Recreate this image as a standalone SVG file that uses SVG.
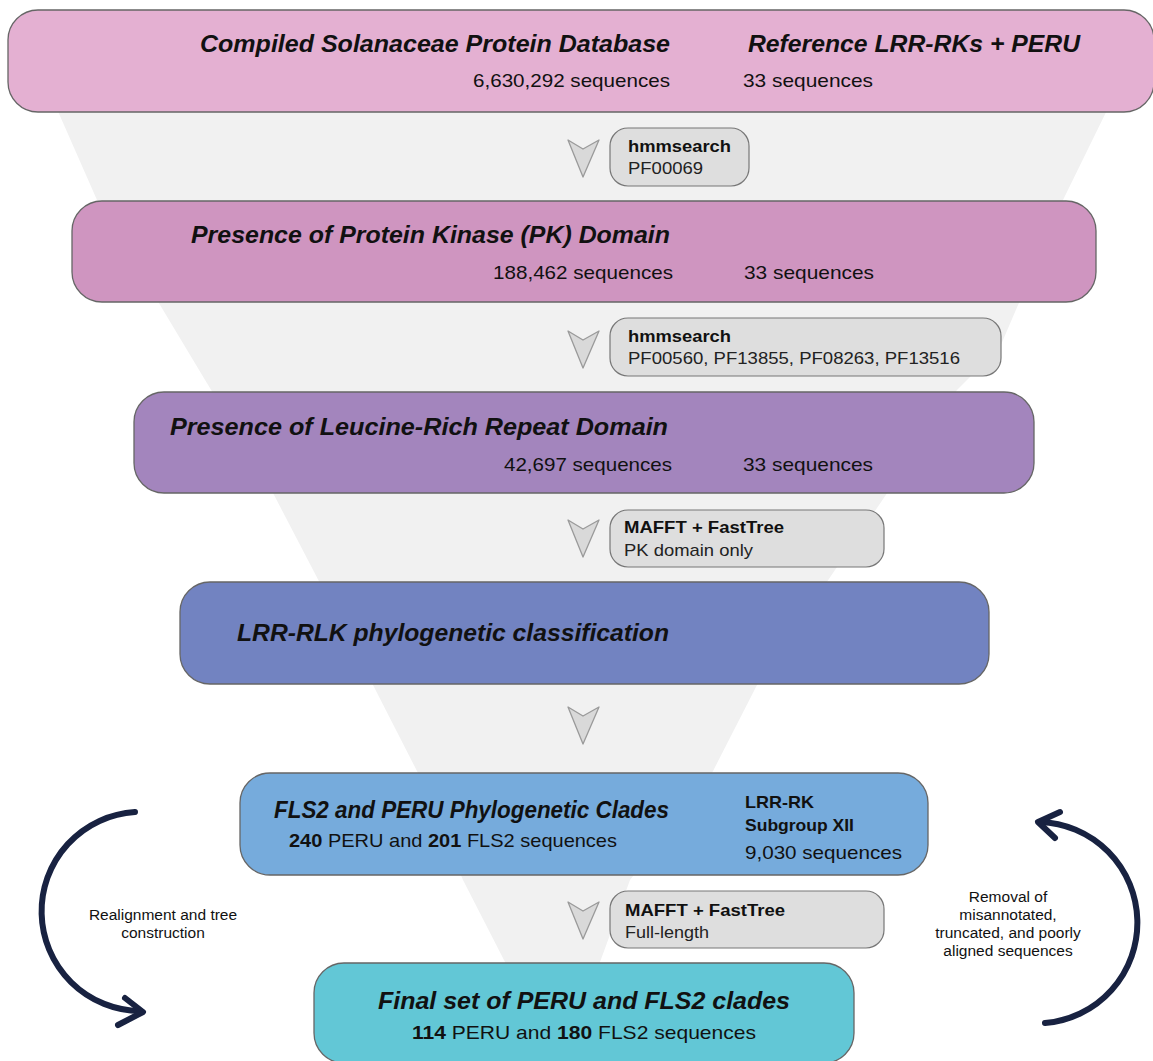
<svg xmlns="http://www.w3.org/2000/svg" width="1153" height="1061" viewBox="0 0 1153 1061">
<style>
text{font-family:"Liberation Sans",Arial,sans-serif;fill:#111}
.t{font-size:23px;font-weight:bold;font-style:italic}
.s{font-size:19px}
.p{font-size:17px;fill:#222}
.pb{font-size:17px;font-weight:bold;fill:#111}
.side{font-size:15.5px;text-anchor:middle}
.box{stroke:#666;stroke-width:1.3}
.pill{fill:#dedede;stroke:#777;stroke-width:1.2}
.chev{fill:#d9d9d9;stroke:#9a9a9a;stroke-width:1.3;stroke-linejoin:round}
.arc{fill:none;stroke:#182241;stroke-width:6;stroke-linecap:round;stroke-linejoin:round}
</style>
<defs>
<path id="chev" class="chev" d="M0,0 L15,9 L31,0 L15,37 Z"/>
</defs>
<rect width="1153" height="1061" fill="#ffffff"/>
<polygon id="funnel" fill="#f1f1f1" points="53,100 1112,100 1063,200 1000,347 957,390 757,685 712,773 630,880 600,962 590,1061 520,1061 505,962 463,880 418,773 373,685 273,493 97,200"/>

<g id="connectors">
<use href="#chev" x="568" y="140"/>
<use href="#chev" x="568" y="331"/>
<use href="#chev" x="568" y="520"/>
<use href="#chev" x="568" y="707"/>
<use href="#chev" x="568" y="902"/>
<g id="loop-left">
<path class="arc" d="M135,812 A99.6,99.6 0 0 0 140,1011"/>
<polyline class="arc" points="125,998 143,1012 118,1025"/>
</g>
<g id="loop-right">
<path class="arc" d="M1045,1023 A100.7,100.7 0 0 0 1040,822"/>
<polyline class="arc" points="1060,812 1038,822 1055,838"/>
</g>
</g>

<g id="node-db">
<rect class="box" x="8" y="10" width="1146" height="102" rx="30" fill="#e4b0d2"/>
<text class="t" x="200" y="52" textLength="470" lengthAdjust="spacingAndGlyphs">Compiled Solanaceae Protein Database</text>
<text class="t" x="748" y="52" textLength="332" lengthAdjust="spacingAndGlyphs">Reference LRR-RKs + PERU</text>
<text class="s" x="473" y="87" textLength="197" lengthAdjust="spacingAndGlyphs">6,630,292 sequences</text>
<text class="s" x="743" y="87" textLength="130" lengthAdjust="spacingAndGlyphs">33 sequences</text>
</g>

<g id="label-1">
<rect class="pill" x="610" y="128" width="139" height="58" rx="18"/>
<text class="pb" x="628" y="152" textLength="103" lengthAdjust="spacingAndGlyphs">hmmsearch</text>
<text class="p" x="628" y="174" textLength="75" lengthAdjust="spacingAndGlyphs">PF00069</text>
</g>

<g id="node-pk">
<rect class="box" x="72" y="201" width="1024" height="101" rx="30" fill="#cf95c0"/>
<text class="t" x="191" y="243" textLength="479" lengthAdjust="spacingAndGlyphs">Presence of Protein Kinase (PK) Domain</text>
<text class="s" x="493" y="279" textLength="180" lengthAdjust="spacingAndGlyphs">188,462 sequences</text>
<text class="s" x="744" y="279" textLength="130" lengthAdjust="spacingAndGlyphs">33 sequences</text>
</g>

<g id="label-2">
<rect class="pill" x="610" y="318" width="391" height="58" rx="18"/>
<text class="pb" x="628" y="342" textLength="103" lengthAdjust="spacingAndGlyphs">hmmsearch</text>
<text class="p" x="628" y="364" textLength="332" lengthAdjust="spacingAndGlyphs">PF00560, PF13855, PF08263, PF13516</text>
</g>

<g id="node-lrr">
<rect class="box" x="134" y="392" width="900" height="101" rx="30" fill="#a385bd"/>
<text class="t" x="170" y="435" textLength="498" lengthAdjust="spacingAndGlyphs">Presence of Leucine-Rich Repeat Domain</text>
<text class="s" x="504" y="471" textLength="168" lengthAdjust="spacingAndGlyphs">42,697 sequences</text>
<text class="s" x="743" y="471" textLength="130" lengthAdjust="spacingAndGlyphs">33 sequences</text>
</g>

<g id="label-3">
<rect class="pill" x="610" y="510" width="274" height="57" rx="18"/>
<text class="pb" x="624" y="533" textLength="160" lengthAdjust="spacingAndGlyphs">MAFFT + FastTree</text>
<text class="p" x="624" y="556" textLength="129" lengthAdjust="spacingAndGlyphs">PK domain only</text>
</g>

<g id="node-class">
<rect class="box" x="180" y="582" width="809" height="102" rx="30" fill="#7283c1"/>
<text class="t" x="237" y="641" textLength="432" lengthAdjust="spacingAndGlyphs">LRR-RLK phylogenetic classification</text>
</g>

<g id="node-clades">
<rect class="box" x="240" y="773" width="688" height="102" rx="30" fill="#76abdc"/>
<text class="t" x="274" y="818" textLength="395" lengthAdjust="spacingAndGlyphs">FLS2 and PERU Phylogenetic Clades</text>
<text class="s" x="289" y="847" textLength="328" lengthAdjust="spacingAndGlyphs"><tspan font-weight="bold">240</tspan> PERU and <tspan font-weight="bold">201</tspan> FLS2 sequences</text>
<text class="pb" x="745" y="808" textLength="69" lengthAdjust="spacingAndGlyphs">LRR-RK</text>
<text class="pb" x="745" y="831" textLength="109" lengthAdjust="spacingAndGlyphs">Subgroup XII</text>
<text class="s" x="745" y="859" textLength="157" lengthAdjust="spacingAndGlyphs">9,030 sequences</text>
</g>

<g id="label-4">
<rect class="pill" x="610" y="891" width="274" height="57" rx="18"/>
<text class="pb" x="625" y="916" textLength="160" lengthAdjust="spacingAndGlyphs">MAFFT + FastTree</text>
<text class="p" x="625" y="938" textLength="84" lengthAdjust="spacingAndGlyphs">Full-length</text>
</g>

<g id="node-final">
<rect class="box" x="314" y="963" width="540" height="100" rx="30" fill="#62c7d6"/>
<text class="t" x="378" y="1009" textLength="412" lengthAdjust="spacingAndGlyphs">Final set of PERU and FLS2 clades</text>
<text class="s" x="412" y="1039" textLength="344" lengthAdjust="spacingAndGlyphs"><tspan font-weight="bold">114</tspan> PERU and <tspan font-weight="bold">180</tspan> FLS2 sequences</text>
</g>

<g id="side-labels">
<text class="side" x="163" y="920">Realignment and tree</text>
<text class="side" x="163" y="938">construction</text>
<text class="side" x="1008" y="902">Removal of</text>
<text class="side" x="1008" y="920">misannotated,</text>
<text class="side" x="1008" y="938">truncated, and poorly</text>
<text class="side" x="1008" y="956">aligned sequences</text>
</g>
</svg>
